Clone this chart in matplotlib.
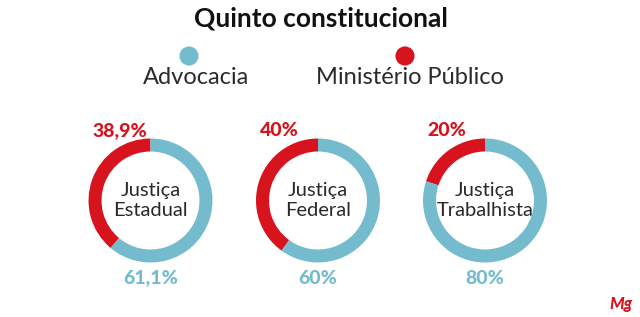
import matplotlib.pyplot as plt

# Quinto constitucional - share of seats by origin
courts = ["Justiça\nEstadual", "Justiça\nFederal", "Justiça\nTrabalhista"]
advocacia = [61.1, 60, 80]
ministerio = [38.9, 40, 20]
adv_labels = ["61,1%", "60%", "80%"]
mp_labels = ["38,9%", "40%", "20%"]

blue = "#74bccd"
red = "#d7141e"
W, H = 640, 317

plt.rcParams['font.family'] = ['Lato', 'DejaVu Sans']
fig = plt.figure(figsize=(W / 100, H / 100), dpi=100)

# overlay axes in pixel coordinates for text and legend
bg = fig.add_axes([0, 0, 1, 1])
bg.set_xlim(0, W)
bg.set_ylim(H, 0)
bg.axis('off')

bg.text(321, 18, "Quinto constitucional", ha='center', va='center',
        fontsize=19, fontweight='bold', color='#111111')

# legend
bg.scatter([189, 405], [56, 56], s=190, c=[blue, red], edgecolors='none')
bg.text(196, 78, "Advocacia", ha='center', va='center', fontsize=17,
        fontweight='normal', color='#2a2a2a')
bg.text(410, 78, "Ministério Público", ha='center', va='center', fontsize=17,
        fontweight='normal', color='#2a2a2a')

centers = [150.5, 318, 485]
cy = 200.5
r = 62
for i, cx in enumerate(centers):
    ax = fig.add_axes([(cx - r) / W, (H - cy - r) / H, 2 * r / W, 2 * r / H])
    ax.pie([ministerio[i], advocacia[i]], colors=[red, blue], startangle=90,
           counterclock=True, radius=1,
           wedgeprops=dict(width=0.21, edgecolor='none'))
    ax.set_xlim(-1, 1)
    ax.set_ylim(-1, 1)
    ax.set_aspect('equal')
    ax.axis('off')

    bg.text(cx, cy, courts[i], ha='center', va='center', fontsize=14.5,
            fontweight='normal', color='#2a2a2a', linespacing=1.2)
    bg.text(cx - 58, 131, mp_labels[i], ha='left', va='center', fontsize=14,
            fontweight='black', color=red)
    bg.text(cx, 278, adv_labels[i], ha='center', va='center', fontsize=14,
            fontweight='black', color=blue)

bg.text(621, 304, "Mg", ha='center', va='center', fontsize=12,
        fontweight='black', fontstyle='italic', color=red)

fig.savefig("out.png", dpi=100)
